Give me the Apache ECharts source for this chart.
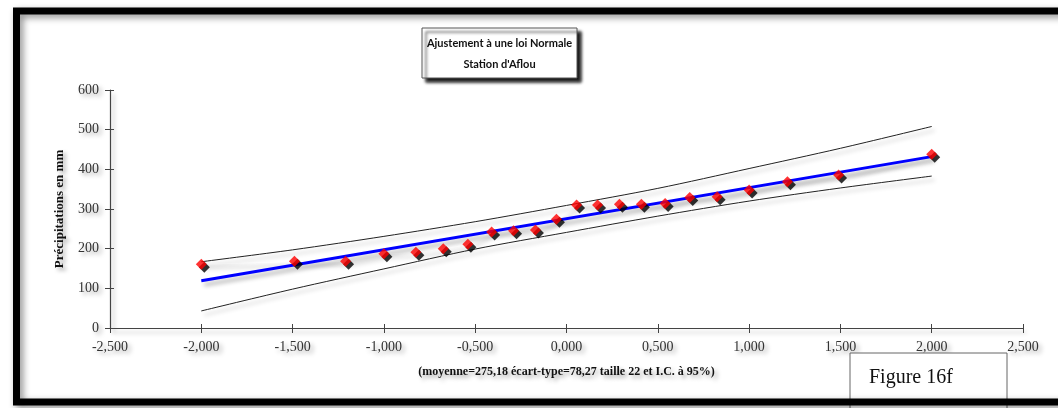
<!DOCTYPE html>
<html>
<head>
<meta charset="utf-8">
<title>Ajustement à une loi Normale - Station d'Aflou</title>
<script src="https://cdn.jsdelivr.net/npm/echarts@6/dist/echarts.min.js"></script>
<style>
  html, body { margin: 0; padding: 0; background: #fff; }
  #chart { width: 1058px; height: 408px; }
</style>
</head>
<body>
<div id="chart"></div>
<script>
// variable réduite (quantiles de la loi normale) et précipitations observées
const obsX = [-2.0, -1.49, -1.21, -1.0, -0.825, -0.675, -0.54, -0.41, -0.29, -0.17, -0.055,
              0.055, 0.17, 0.29, 0.41, 0.54, 0.675, 0.825, 1.0, 1.21, 1.49, 2.0];
const obsY = [161, 168, 168, 187, 191, 200, 211, 242, 245, 247, 274,
              310, 310, 312, 312, 314, 329, 331, 348, 369, 386, 438];

// droite d'ajustement
const fitX = [-2.0, 2.0];
const fitY = [119, 432];

// intervalle de confiance à 95%
const ciX = [-2.0, -1.5, -1.0, -0.5, 0.0, 0.5, 1.0, 1.5, 2.0];
const ciUpper = [167, 197, 231, 268, 309, 352, 402, 453, 508];
const ciLower = [43, 98, 149, 199, 241, 282, 320, 353, 383];

const xTicks = { min: -2.5, max: 2.5, interval: 0.5 };
const yTicks = { min: 0, max: 600, interval: 100 };

const titleLines = ['Ajustement à une loi Normale', "Station d'Aflou"];
const xName = '(moyenne=275,18 écart-type=78,27 taille 22 et I.C. à 95%)';
const yName = 'Précipitations en mm';
const figLabel = 'Figure 16f';

const pairs = (xs, ys) => xs.map((x, i) => [x, ys[i]]);

const serif = '"Liberation Serif", "DejaVu Serif", serif';
const txtShadow = {
  textShadowColor: 'rgba(0,0,0,0.35)',
  textShadowBlur: 4,
  textShadowOffsetX: 3,
  textShadowOffsetY: 3
};
const lineShadow = {
  shadowColor: 'rgba(0,0,0,0.3)',
  shadowBlur: 4,
  shadowOffsetX: 3,
  shadowOffsetY: 4
};

let chart = echarts.init(document.getElementById('chart'));

const option = {
  animation: false,
  backgroundColor: '#fff',
  grid: { left: 110, right: 35, top: 90, bottom: 80 },
  xAxis: [
    {
      type: 'value',
      min: xTicks.min, max: xTicks.max, interval: xTicks.interval,
      splitLine: { show: false },
      axisLine: { onZero: false, lineStyle: Object.assign({ color: '#444', width: 1.2 }, lineShadow) },
      axisTick: { length: 5, lineStyle: { color: '#444' } },
      axisLabel: Object.assign({
        color: '#333', fontFamily: serif, fontSize: 14, margin: 12,
        formatter: v => v.toFixed(3).replace('.', ',')
      }, txtShadow),
      name: xName,
      nameLocation: 'middle',
      nameGap: 38,
      nameTextStyle: Object.assign({ color: '#111', fontFamily: serif, fontSize: 12, fontWeight: 'bold' }, txtShadow)
    },
    {
      type: 'value', position: 'bottom',
      min: xTicks.min, max: xTicks.max, interval: xTicks.interval,
      splitLine: { show: false },
      axisLine: { show: false, onZero: false },
      axisTick: { inside: true, length: 4, lineStyle: { color: '#444' } },
      axisLabel: { show: false }
    }
  ],
  yAxis: [
    {
      type: 'value',
      min: yTicks.min, max: yTicks.max, interval: yTicks.interval,
      splitLine: { show: false },
      axisLine: { show: true, onZero: false, lineStyle: Object.assign({ color: '#444', width: 1.2 }, lineShadow) },
      axisTick: { show: true, length: 5, lineStyle: { color: '#444' } },
      axisLabel: Object.assign({ color: '#333', fontFamily: serif, fontSize: 14, margin: 11 }, txtShadow),
      name: yName,
      nameLocation: 'middle',
      nameGap: 44,
      nameTextStyle: Object.assign({ color: '#111', fontFamily: serif, fontSize: 13, fontWeight: 'bold' }, txtShadow)
    },
    {
      type: 'value', position: 'left',
      min: yTicks.min, max: yTicks.max, interval: yTicks.interval,
      splitLine: { show: false },
      axisLine: { show: false, onZero: false },
      axisTick: { show: true, inside: true, length: 4, lineStyle: { color: '#444' } },
      axisLabel: { show: false }
    }
  ],
  series: [
    {
      // trait fin reliant les observations
      type: 'line', z: 2, symbol: 'none',
      data: pairs(obsX, obsY),
      lineStyle: Object.assign({ color: '#fff', width: 1.2 }, lineShadow)
    },
    {
      type: 'line', z: 3, symbol: 'none', smooth: 0.3,
      data: pairs(ciX, ciUpper),
      lineStyle: Object.assign({ color: '#222', width: 1 }, lineShadow)
    },
    {
      type: 'line', z: 3, symbol: 'none', smooth: 0.3,
      data: pairs(ciX, ciLower),
      lineStyle: Object.assign({ color: '#222', width: 1 }, lineShadow)
    },
    {
      type: 'line', z: 4, symbol: 'none',
      data: pairs(fitX, fitY),
      lineStyle: Object.assign({ color: '#0000ff', width: 3 }, lineShadow)
    },
    {
      type: 'scatter', z: 5,
      symbol: 'diamond', symbolSize: 11,
      data: pairs(obsX, obsY),
      itemStyle: {
        color: '#ff0000',
        shadowColor: '#000',
        shadowBlur: 0,
        shadowOffsetX: 3,
        shadowOffsetY: 3
      }
    }
  ],
  graphic: [
    // cadre du titre
    {
      type: 'rect', z: 10,
      shape: { x: 422, y: 28, width: 155, height: 50 },
      style: {
        fill: '#fff', stroke: '#555', lineWidth: 1,
        shadowColor: 'rgba(0,0,0,0.9)', shadowBlur: 3, shadowOffsetX: 4, shadowOffsetY: 4
      }
    },
    {
      type: 'text', z: 11,
      style: {
        x: 499.5, y: 43, text: titleLines[0], align: 'center', verticalAlign: 'middle',
        font: 'bold 11px Lato, "Liberation Sans", sans-serif', fill: '#111'
      }
    },
    {
      type: 'text', z: 11,
      style: {
        x: 499.5, y: 64, text: titleLines[1], align: 'center', verticalAlign: 'middle',
        font: 'bold 11px Lato, "Liberation Sans", sans-serif', fill: '#111'
      }
    },
    // étiquette de la figure
    {
      type: 'rect', z: 10,
      shape: { x: 850, y: 353, width: 157, height: 60 },
      style: { fill: '#fff', stroke: '#666', lineWidth: 1 }
    },
    {
      type: 'text', z: 11,
      style: {
        x: 869, y: 378, text: figLabel, align: 'left', verticalAlign: 'middle',
        font: '20px "Liberation Serif", serif', fill: '#111'
      }
    },
    // cadre noir autour du graphique
    {
      type: 'rect', z: 20,
      shape: { x: 16.5, y: 11, width: 1100, height: 391 },
      style: {
        fill: null, stroke: '#000', lineWidth: 7,
        shadowColor: 'rgba(0,0,0,0.45)', shadowBlur: 7, shadowOffsetX: 3, shadowOffsetY: 3
      }
    }
  ]
};

chart.setOption(option);
</script>
</body>
</html>
